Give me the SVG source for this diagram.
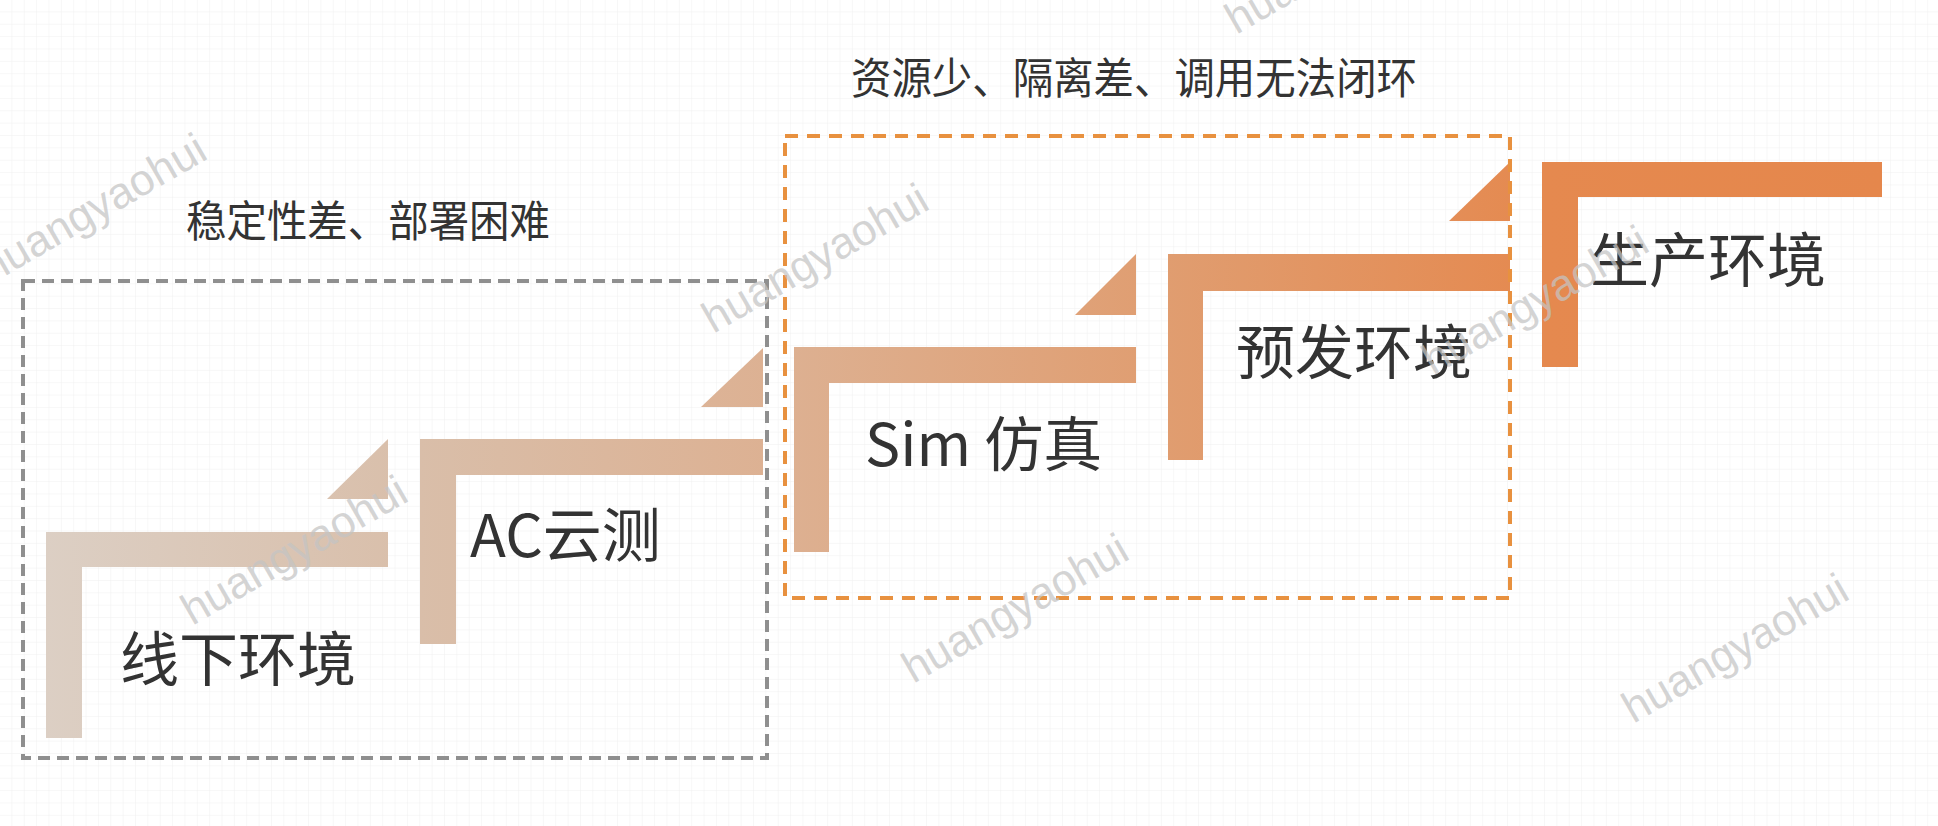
<svg xmlns="http://www.w3.org/2000/svg" width="1938" height="826" viewBox="0 0 1938 826">
  <defs>
    <pattern id="grid" width="12.36" height="12.36" patternUnits="userSpaceOnUse">
      <path d="M12.36 0V12.36H0" fill="none" stroke="#efefef" stroke-width="1"/>
    </pattern>
    <linearGradient id="stepFill" gradientUnits="userSpaceOnUse" x1="46" y1="0" x2="1882" y2="0">
      <stop offset="0" stop-color="#DCCFC4"/>
      <stop offset="0.204" stop-color="#D9BEA9"/>
      <stop offset="0.407" stop-color="#DDB091"/>
      <stop offset="0.611" stop-color="#E09D70"/>
      <stop offset="0.815" stop-color="#E5894F"/>
      <stop offset="1" stop-color="#E5874C"/>
    </linearGradient>
    <style>
      .step { fill: url(#stepFill); }
      .label { font-family: "Noto Sans CJK SC", "Noto Sans", sans-serif; fill: #333333; font-size: 59px; }
      .caption { font-family: "Noto Sans CJK SC", "Noto Sans", sans-serif; fill: #333333; font-size: 43px; }
      .box { fill: none; stroke-width: 4; }
      .wm { font-family: "Liberation Sans", Arial, sans-serif; font-size: 44px; fill: #c4c4c4; fill-opacity: 0.72; text-anchor: middle; }
    </style>
  </defs>

  <rect width="1938" height="826" fill="#ffffff"/>
  <rect width="1938" height="826" fill="url(#grid)"/>

  <g id="captions">
    <text class="caption" x="186" y="237" textLength="364" lengthAdjust="spacingAndGlyphs">稳定性差、部署困难</text>
    <text class="caption" x="851" y="94" textLength="566" lengthAdjust="spacingAndGlyphs">资源少、隔离差、调用无法闭环</text>
  </g>

  <g id="step-offline">
    <path class="step" d="M46 532H388V567H82V738H46Z"/>
    <path class="step" d="M388 439L327 499H388Z"/>
    <text class="label" x="120" y="681">线下环境</text>
  </g>

  <g id="step-ac">
    <path class="step" d="M420 439H763V475H456V644H420Z"/>
    <path class="step" d="M763 348L701 407H763Z"/>
    <text class="label" x="470" y="557">AC云测</text>
  </g>

  <g id="step-sim">
    <path class="step" d="M794 347H1136V383H829V552H794Z"/>
    <path class="step" d="M1136 254L1075 315H1136Z"/>
    <text class="label" x="865" y="466">Sim 仿真</text>
  </g>

  <g id="step-pre">
    <path class="step" d="M1168 254H1510V291H1203V460H1168Z"/>
    <path class="step" d="M1510 162L1449 221H1510Z"/>
    <text class="label" x="1236" y="374">预发环境</text>
  </g>

  <g id="step-prod">
    <path class="step" d="M1542 162H1882V197H1578V367H1542Z"/>
    <text class="label" x="1590" y="282">生产环境</text>
  </g>

  <g id="group-boxes">
    <rect id="box-offline" class="box" x="23" y="281" width="744" height="477" stroke="#8f8f8f" stroke-dasharray="12 7"/>
    <rect id="box-sim" class="box" x="785" y="136" width="725" height="462" stroke="#E8913F" stroke-dasharray="13 9"/>
  </g>

  <g id="connectors"></g>

  <g id="watermarks">
    <text class="wm" x="93" y="223" transform="rotate(-30 93 208)">huangyaohui</text>
    <text class="wm" x="815" y="273" transform="rotate(-30 815 258)">huangyaohui</text>
    <text class="wm" x="1338" y="-26" transform="rotate(-30 1338 -41)">huangyaohui</text>
    <text class="wm" x="294" y="565" transform="rotate(-30 294 550)">huangyaohui</text>
    <text class="wm" x="1535" y="315" transform="rotate(-30 1535 300)">huangyaohui</text>
    <text class="wm" x="1015" y="623" transform="rotate(-30 1015 608)">huangyaohui</text>
    <text class="wm" x="1735" y="663" transform="rotate(-30 1735 648)">huangyaohui</text>
  </g>
</svg>
